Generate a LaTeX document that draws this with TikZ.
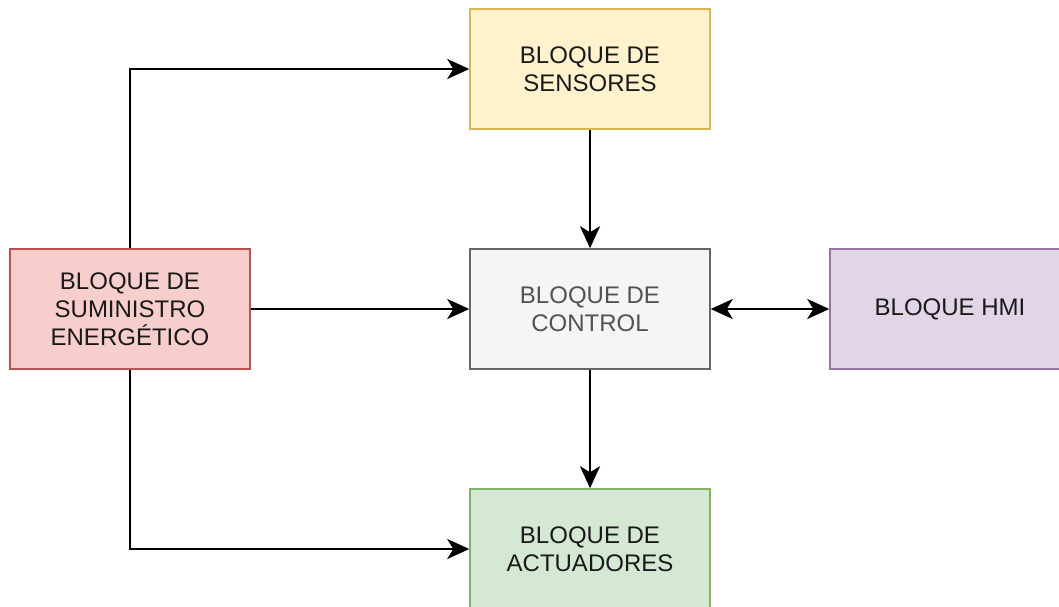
\documentclass[tikz,border=0pt]{standalone}
\usepackage{fontspec}
\setmainfont{Liberation Sans}
\usetikzlibrary{arrows.meta}
\definecolor{sensfill}{HTML}{FFF2CC}\definecolor{sensline}{HTML}{D6B656}
\definecolor{ctrlfill}{HTML}{F5F5F5}\definecolor{ctrlline}{HTML}{666666}
\definecolor{ctrltext}{HTML}{333333}
\definecolor{hmifill}{HTML}{E1D5E7}\definecolor{hmiline}{HTML}{9673A6}
\definecolor{pwrfill}{HTML}{F8CECC}\definecolor{pwrline}{HTML}{B85450}
\definecolor{actfill}{HTML}{D5E8D4}\definecolor{actline}{HTML}{82B366}
\tikzset{
  blockbox/.style={rectangle,draw,line width=1.5pt,minimum width=240pt,minimum height=120pt,
    align=center,inner sep=0pt,font=\fontsize{24}{28}\selectfont,text=black!90},
  arrowline/.style={line width=2.5pt,arrows={-Stealth[length=22pt,width=20pt,inset=6pt]}},
  twowayline/.style={line width=2.5pt,arrows={Stealth[length=22pt,width=20pt,inset=6pt]-Stealth[length=22pt,width=20pt,inset=6pt]}}
}
\begin{document}
\begin{tikzpicture}[x=1pt,y=-1pt]
\useasboundingbox (0,0) rectangle (1059,606);
\clip (0,0) rectangle (1059,606);
\node[blockbox,fill=sensfill,draw=sensline] (sens) at (590,69) {BLOQUE DE\\SENSORES};
\node[blockbox,fill=ctrlfill,draw=ctrlline,text=ctrltext!85] (ctrl) at (590,309) {BLOQUE DE\\CONTROL};
\node[blockbox,fill=hmifill,draw=hmiline] (hmi) at (950,309) {BLOQUE HMI};
\node[blockbox,fill=pwrfill,draw=pwrline] (pwr) at (130,309) {BLOQUE DE\\SUMINISTRO\\ENERGÉTICO};
\node[blockbox,fill=actfill,draw=actline] (act) at (590,549) {BLOQUE DE\\ACTUADORES};
\draw[arrowline] (pwr.north) |- (sens.west);
\draw[arrowline] (pwr.east) -- (ctrl.west);
\draw[arrowline] (pwr.south) |- (act.west);
\draw[arrowline] (sens.south) -- (ctrl.north);
\draw[arrowline] (ctrl.south) -- (act.north);
\draw[twowayline] (ctrl.east) -- (hmi.west);
\end{tikzpicture}
\end{document}
